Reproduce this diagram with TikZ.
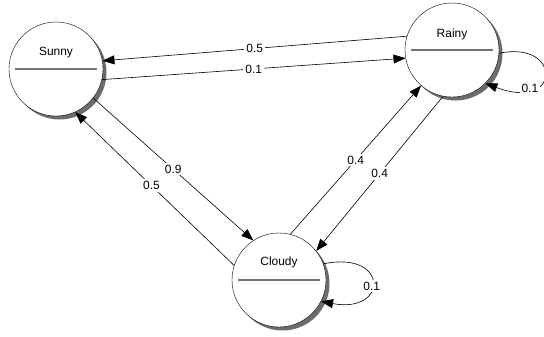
\documentclass[tikz,border=0pt]{standalone}
\usepackage{fontspec}
\setmainfont{Liberation Sans}
\usetikzlibrary{positioning,arrows.meta,shadows}

\begin{document}
\begin{tikzpicture}[
            x=1bp,y=-1bp,
            state/.style={circle,draw,fill=white,minimum size=94bp,inner sep=0pt,
                drop shadow={shadow xshift=3.5bp,shadow yshift=-3.5bp,fill=gray!85!black,opacity=1}},
            statename/.style={font=\fontsize{12}{14}\selectfont},
            divider/.style={draw=gray!90!black,line width=1.3bp},
            prob/.style={fill=white,inner sep=2bp,font=\fontsize{12}{14}\selectfont},
            arrow/.style={-{Triangle[length=12bp,width=9bp]},line width=0.6bp}]
            \useasboundingbox (0,0) rectangle (544,336);
            \node[state] (sunny) at (56,69) {};
            \node[state] (rainy) at (452,50) {};
            \node[state] (cloudy) at (279,280) {};
            \draw[divider] ([xshift=-41bp]sunny.center) -- ([xshift=41bp]sunny.center);
            \draw[divider] ([xshift=-41bp]rainy.center) -- ([xshift=41bp]rainy.center);
            \draw[divider] ([xshift=-41bp]cloudy.center) -- ([xshift=41bp]cloudy.center);
            \node[statename] (sunnytxt) at ([yshift=16bp]sunny.center) {Sunny};
            \node[statename] (rainytxt) at ([yshift=16bp]rainy.center) {Rainy};
            \node[statename] (cloudytxt) at ([yshift=18bp]cloudy.center) {Cloudy};
            \draw[arrow] (rainy.163) -- node[prob] {0.5} (sunny.10);
            \draw[arrow] (sunny.-13) -- node[prob] {0.1} (rainy.190);
            \draw[arrow] (sunny.-38) -- node[prob] {0.9} (cloudy.123);
            \draw[arrow] (cloudy.162) -- node[prob,pos=0.52] {0.5} (sunny.-66);
            \draw[arrow] (cloudy.76) -- node[prob] {0.4} (rainy.229);
            \draw[arrow] (rainy.259) -- node[prob] {0.4} (cloudy.38);
            \draw[arrow] (rainy.-4) .. controls (562,40) and (562,112) .. (rainy.-45)
                node[prob,pos=0.74] {0.1};
            \draw[arrow] (cloudy.20) .. controls (389,250) and (389,314) .. (cloudy.-27)
                node[prob,pos=0.55] {0.1};
        \end{tikzpicture}
\end{document}
